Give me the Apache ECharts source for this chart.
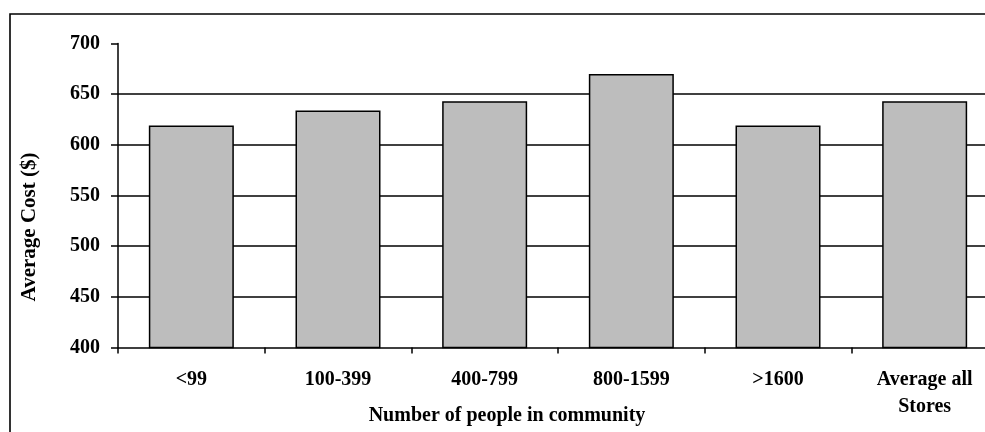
<!DOCTYPE html>
<html>
<head>
<meta charset="utf-8">
<script src="https://cdn.jsdelivr.net/npm/echarts@6/dist/echarts.min.js"></script>
<style>
html,body{margin:0;padding:0;background:#fff;overflow:hidden;width:985px;height:432px;}
#chart{width:998px;height:432px;}
</style>
</head>
<body>
<div id="chart"></div>
<script>
const categories = ['<99', '100-399', '400-799', '800-1599', '>1600', 'Average all\nStores'];
const avgCost = [619, 634, 643, 670, 619, 643];
const yTicks = { min: 400, max: 700, interval: 50 };
const yAxisName = 'Average Cost ($)';
const xAxisName = 'Number of people in community';

const FONT = '"Liberation Serif", "Times New Roman", serif';
const chart = echarts.init(document.getElementById('chart'), null, { renderer: 'canvas' });
chart.setOption({
  animation: false,
  backgroundColor: '#fff',
  grid: { left: 118, top: 43.5, right: 0, height: 304, containLabel: false },
  xAxis: {
    type: 'category',
    data: categories,
    boundaryGap: true,
    axisLine: { show: true, lineStyle: { color: '#000', width: 1.5 } },
    axisTick: { show: true, length: 6, lineStyle: { color: '#000', width: 1.5 } },
    axisLabel: {
      color: '#000', fontFamily: FONT, fontWeight: 'bold', fontSize: 20,
      margin: 19, lineHeight: 27, interval: 0
    },
    splitLine: { show: false }
  },
  yAxis: {
    type: 'value',
    min: yTicks.min, max: yTicks.max, interval: yTicks.interval,
    axisLine: { show: true, lineStyle: { color: '#000', width: 1.5 } },
    axisTick: { show: true, length: 7, lineStyle: { color: '#000', width: 1.5 } },
    axisLabel: { color: '#000', fontFamily: FONT, fontWeight: 'bold', fontSize: 20, margin: 18 },
    splitLine: { show: true, showMinLine: false, showMaxLine: false, lineStyle: { color: '#000', width: 1.5 } }
  },
  series: [{
    type: 'bar',
    data: avgCost,
    barWidth: 85,
    itemStyle: { color: '#bdbdbd', borderColor: '#000', borderWidth: 1.5 }
  }],
  graphic: [
    { type: 'rect', shape: { x: 10, y: 14, width: 1100, height: 600 },
      style: { fill: 'none', stroke: '#000', lineWidth: 1.6 }, silent: true },
    { type: 'text', x: 30, y: 227, rotation: Math.PI / 2,
      style: { text: yAxisName, fill: '#000', font: 'bold 21px ' + FONT, align: 'center', verticalAlign: 'middle' } },
    { type: 'text', x: 507, y: 416,
      style: { text: xAxisName, fill: '#000', font: 'bold 20px ' + FONT, align: 'center', verticalAlign: 'middle' } }
  ]
});
</script>
</body>
</html>
